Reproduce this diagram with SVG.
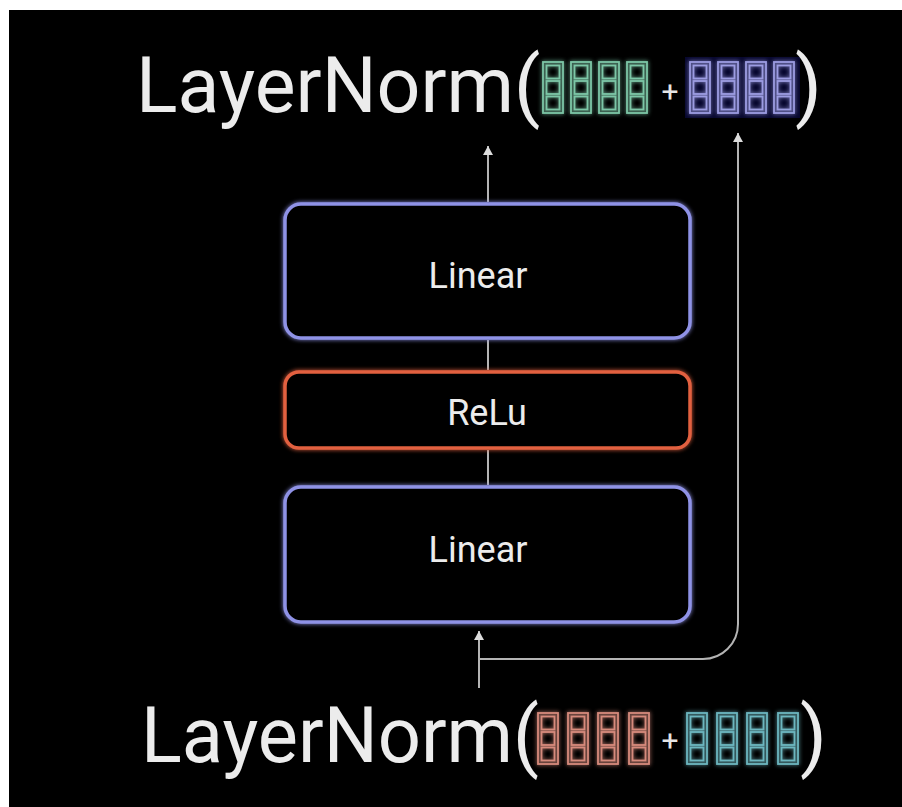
<svg xmlns="http://www.w3.org/2000/svg" width="902" height="807" viewBox="0 0 902 807">
<style>
.big{font-family:Roboto,"Liberation Sans",sans-serif;font-size:77px;fill:#ececec}
.lbl{font-family:Roboto,"Liberation Sans",sans-serif;font-size:36px;fill:#ececec;text-anchor:middle}
.plus{font-family:Roboto,"Liberation Sans",sans-serif;font-size:30px;fill:#e6e6e6;text-anchor:middle}
.box{fill:#000;stroke-width:3.5}
.blue{stroke:#8f92e6}
.orange{stroke:#e2603f}
.conn{fill:none;stroke:#b4b4b4;stroke-width:2}
.cell{fill:none;stroke-width:1.8}
.g{stroke:#7cc6a6}
.b{stroke:#9c9ce2}
.r{stroke:#d68a7c}
.t{stroke:#6cb6bf}
</style>
<defs>
<filter id="glow" x="-10%" y="-20%" width="120%" height="140%">
<feGaussianBlur in="SourceGraphic" stdDeviation="2" result="b"/>
<feMerge><feMergeNode in="b"/><feMergeNode in="SourceGraphic"/></feMerge>
</filter>
<marker id="ah" markerUnits="userSpaceOnUse" markerWidth="12" markerHeight="12" viewBox="0 0 12 12" refX="11" refY="6" orient="auto">
<path d="M11,6 L2,1 L2,11 Z" fill="#dcdcdc"/>
</marker>
<g id="col">
<rect x="0" y="0" width="20" height="51" class="cell"/>
<rect x="3.5" y="3.5" width="13" height="13" class="cell"/>
<rect x="3.5" y="19" width="13" height="13" class="cell"/>
<rect x="3.5" y="34.5" width="13" height="13" class="cell"/>
</g>
</defs>
<rect x="9" y="10" width="893" height="797" fill="#000"/>

<g id="connectors">
<path class="conn" d="M488,202 V146" marker-end="url(#ah)"/>
<path class="conn" d="M488,340 V370"/>
<path class="conn" d="M488,450 V485"/>
<path class="conn" d="M479,688 V631" marker-end="url(#ah)"/>
<path class="conn" d="M479,659 H703 A35,35 0 0 0 738,624 V133" marker-end="url(#ah)"/>
</g>

<g id="linear-top">
<rect class="box blue" x="285" y="204" width="405" height="134" rx="16" filter="url(#glow)"/>
<text class="lbl" x="478" y="288">Linear</text>
</g>
<g id="relu">
<rect class="box orange" x="285" y="372" width="405" height="76" rx="14" filter="url(#glow)"/>
<text class="lbl" x="487" y="425">ReLu</text>
</g>
<g id="linear-bottom">
<rect class="box blue" x="285" y="487" width="405" height="135" rx="16" filter="url(#glow)"/>
<text class="lbl" x="478" y="562">Linear</text>
</g>

<g id="layernorm-top">
<text class="big" x="136" y="112">LayerNorm(</text>
<g class="g" filter="url(#glow)">
<use href="#col" x="543" y="62"/>
<use href="#col" x="571" y="62"/>
<use href="#col" x="599" y="62"/>
<use href="#col" x="627" y="62"/>
</g>
<text class="plus" x="670" y="102">+</text>
<rect x="685" y="57" width="115" height="61" fill="#07072e"/>
<g class="b" filter="url(#glow)">
<use href="#col" x="690" y="62"/>
<use href="#col" x="718" y="62"/>
<use href="#col" x="746" y="62"/>
<use href="#col" x="774" y="62"/>
</g>
<text class="big" x="795" y="112">)</text>
</g>

<g id="layernorm-bottom">
<text class="big" x="141" y="762" textLength="398" lengthAdjust="spacingAndGlyphs">LayerNorm(</text>
<g class="r" filter="url(#glow)">
<use href="#col" x="538" y="713"/>
<use href="#col" x="568" y="713"/>
<use href="#col" x="598" y="713"/>
<use href="#col" x="629" y="713"/>
</g>
<text class="plus" x="670" y="751">+</text>
<g class="t" filter="url(#glow)">
<use href="#col" x="687" y="713"/>
<use href="#col" x="717" y="713"/>
<use href="#col" x="747" y="713"/>
<use href="#col" x="778" y="713"/>
</g>
<text class="big" x="800" y="762">)</text>
</g>
</svg>
